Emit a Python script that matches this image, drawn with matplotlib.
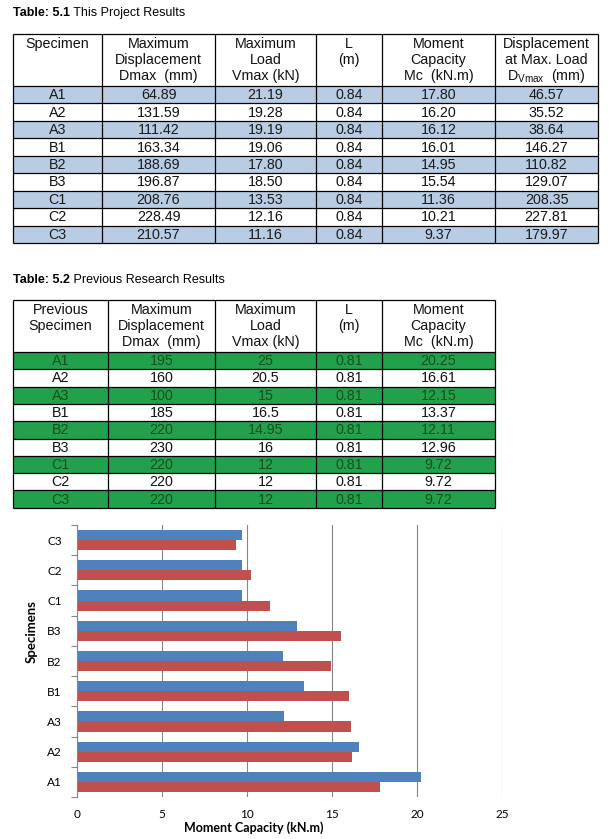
import matplotlib.pyplot as plt
from matplotlib.patches import Rectangle
import numpy as np

W, H = 609, 839

specimens = ['A1', 'A2', 'A3', 'B1', 'B2', 'B3', 'C1', 'C2', 'C3']

# Table 5.1 - this project
this_dmax = [64.89, 131.59, 111.42, 163.34, 188.69, 196.87, 208.76, 228.49, 210.57]
this_vmax = [21.19, 19.28, 19.19, 19.06, 17.80, 18.50, 13.53, 12.16, 11.16]
this_L = [0.84] * 9
this_mc = [17.80, 16.20, 16.12, 16.01, 14.95, 15.54, 11.36, 10.21, 9.37]
this_dvmax = [46.57, 35.52, 38.64, 146.27, 110.82, 129.07, 208.35, 227.81, 179.97]

# Table 5.2 - previous research
prev_dmax = [195, 160, 100, 185, 220, 230, 220, 220, 220]
prev_vmax = [25, 20.5, 15, 16.5, 14.95, 16, 12, 12, 12]
prev_L = [0.81] * 9
prev_mc = [20.25, 16.61, 12.15, 13.37, 12.11, 12.96, 9.72, 9.72, 9.72]

head1 = [['Specimen'],
         ['Maximum', 'Displacement', 'Dmax  (mm)'],
         ['Maximum', 'Load', 'Vmax (kN)'],
         ['L', '(m)'],
         ['Moment', 'Capacity', 'Mc  (kN.m)'],
         ['Displacement', 'at Max. Load', r'D$_{\mathregular{Vmax}}$  (mm)']]
head2 = [['Previous', 'Specimen'],
         ['Maximum', 'Displacement', 'Dmax  (mm)'],
         ['Maximum', 'Load', 'Vmax (kN)'],
         ['L', '(m)'],
         ['Moment', 'Capacity', 'Mc  (kN.m)']]

TFONT = ['Liberation Sans', 'DejaVu Sans']
CFONT = ['Lato', 'DejaVu Sans']

fig = plt.figure(figsize=(W / 100, H / 100), dpi=100)
tab = fig.add_axes([0, 0, 1, 1])
tab.set_xlim(0, W)
tab.set_ylim(H, 0)
tab.axis('off')


def title(x, y, bold, rest):
    t = tab.text(x, y, bold, fontsize=9, weight='bold', family=TFONT, va='bottom', ha='left')
    tab.annotate(rest, xy=(1, 0), xycoords=t, fontsize=9, family=TFONT, va='bottom', ha='left')


def draw_table(top, edges, head_h, row_h, heads, cols, shade, txt_shade):
    n = len(cols[0])
    bottom = top + head_h + n * row_h
    for i in range(n):
        y0 = top + head_h + i * row_h
        if i % 2 == 0:
            tab.add_patch(Rectangle((edges[0], y0), edges[-1] - edges[0], row_h,
                                    facecolor=shade, edgecolor='none'))
        for j, col in enumerate(cols):
            xc = (edges[j] + edges[j + 1]) / 2
            tab.text(xc, y0 + row_h / 2 + 0.5, col[i], ha='center', va='center',
                     fontsize=10.3, family=TFONT,
                     color=txt_shade if i % 2 == 0 else '#111111')
    for j, lines in enumerate(heads):
        xc = (edges[j] + edges[j + 1]) / 2
        for k, s in enumerate(lines):
            tab.text(xc, top + 10 + 16 * k, s, ha='center', va='center',
                     fontsize=10.3, family=TFONT, color='#111111')
    ys = [top, top + head_h] + [top + head_h + i * row_h for i in range(1, n + 1)]
    tab.hlines(ys, edges[0], edges[-1], color='black', lw=0.9)
    tab.vlines(edges, top, bottom, color='black', lw=0.9)


title(13, 19, 'Table: 5.1', ' This Project Results')
cols1 = [specimens] + [['%.2f' % v for v in c] for c in
                       (this_dmax, this_vmax, this_L, this_mc, this_dvmax)]
draw_table(34, [13, 102, 215, 316, 382, 495, 598], 52, 17.45, head1, cols1,
           '#b8cce4', '#1a1a1a')

title(13, 286, 'Table: 5.2', ' Previous Research Results')
cols2 = [specimens] + [['%g' % v for v in c] for c in
                       (prev_dmax, prev_vmax, prev_L, prev_mc)]
draw_table(300, [13, 108, 215, 316, 382, 495], 52, 17.3, head2, cols2,
           '#22a04b', '#12501e')

# bar chart
ax = fig.add_axes([77 / W, 1 - 797 / H, 425 / W, 272 / H])
y = np.arange(len(specimens))
h = 1 / 3
ax.barh(y + h / 2, prev_mc, height=h, color='#4f81bd', zorder=2)
ax.barh(y - h / 2, this_mc, height=h, color='#c0504d', zorder=2)
ax.set_xlim(0, 25)
ax.set_ylim(-0.5, len(specimens) - 0.5)
ax.set_xticks(range(0, 26, 5))
ax.grid(axis='x', color='#868686', lw=0.8)
ax.set_axisbelow(True)
for s in ('top', 'right', 'bottom'):
    ax.spines[s].set_visible(False)
ax.spines['left'].set_color('#868686')
ax.set_yticks(y, specimens)
ax.set_yticks(np.arange(-0.5, len(specimens)), minor=True)
ax.tick_params(axis='y', which='major', length=0, pad=11, labelsize=8.5)
ax.tick_params(axis='y', which='minor', length=4, color='#868686', width=0.8)
ax.tick_params(axis='x', length=0, pad=9, labelsize=8.5)
for lab in ax.get_xticklabels() + ax.get_yticklabels():
    lab.set_family(CFONT)

fig.text(254 / W, 1 - 828 / H, 'Moment Capacity (kN.m)', ha='center', va='center',
         fontsize=9, weight='bold', family=CFONT)
fig.text(32 / W, 1 - 632 / H, 'Specimens', ha='center', va='center', rotation=90,
         fontsize=9.5, weight='bold', family=CFONT)

fig.savefig('out.png', dpi=100)
